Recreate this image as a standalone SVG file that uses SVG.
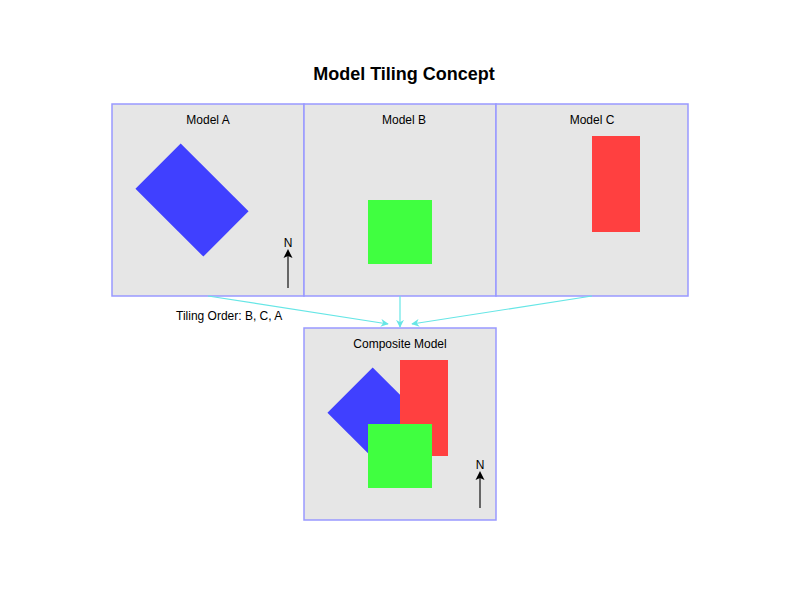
<svg xmlns="http://www.w3.org/2000/svg" width="800" height="600" viewBox="0 0 800 600">
<defs>
<style>
.box{fill:#e6e6e6;stroke:#9999ff;stroke-width:1.5}
.lbl{font-family:"Liberation Sans",Arial,sans-serif;font-size:12px;fill:#000;text-anchor:middle}
.title{font-family:"Liberation Sans",Arial,sans-serif;font-size:18px;font-weight:bold;text-anchor:middle}
.conn{stroke:#66e6e6;stroke-width:1.2;fill:none;marker-end:url(#ah)}
.nline{stroke:#666;stroke-width:2}
.nhead{fill:#000}
.blue{fill:#4040ff}.green{fill:#40ff40}.red{fill:#ff4040}
</style>
<marker id="ah" viewBox="0 0 10 10" refX="9" refY="5" markerWidth="8" markerHeight="8" orient="auto" markerUnits="userSpaceOnUse"><path d="M0,0 L10,5 L0,10 L3,5 z" fill="#66e6e6"/></marker>
</defs>
<rect width="800" height="600" fill="#fff"/>
<text class="title" x="404" y="80">Model Tiling Concept</text>
<g id="modelA">
<rect class="box" x="112" y="104" width="192" height="192"/>
<text class="lbl" x="208" y="124">Model A</text>
<rect class="blue" x="160" y="152" width="64" height="96" transform="rotate(-45 192 200)"/>
<line class="nline" x1="288" y1="288" x2="288" y2="256"/>
<path class="nhead" d="M288,249 L292.5,258 L288,256 L283.5,258 z"/>
<text class="lbl" x="288" y="247">N</text>
</g>
<g id="modelB">
<rect class="box" x="304" y="104" width="192" height="192"/>
<text class="lbl" x="404" y="124">Model B</text>
<rect class="green" x="368" y="200" width="64" height="64"/>
</g>
<g id="modelC">
<rect class="box" x="496" y="104" width="192" height="192"/>
<text class="lbl" x="592" y="124">Model C</text>
<rect class="red" x="592" y="136" width="48" height="96"/>
</g>
<g id="composite">
<rect class="box" x="304" y="328" width="192" height="192"/>
<text class="lbl" x="400" y="348">Composite Model</text>
<rect class="blue" x="352" y="376" width="64" height="96" transform="rotate(-45 384 424)"/>
<rect class="red" x="400" y="360" width="48" height="96"/>
<rect class="green" x="368" y="424" width="64" height="64"/>
<line class="nline" x1="480" y1="508" x2="480" y2="478"/>
<path class="nhead" d="M480,471 L484.5,480 L480,478 L475.5,480 z"/>
<text class="lbl" x="480" y="469">N</text>
</g>
<g id="connectors">
<line class="conn" x1="208" y1="296" x2="388" y2="324"/>
<line class="conn" x1="400" y1="296" x2="400" y2="327"/>
<line class="conn" x1="592" y1="296" x2="412" y2="324"/>
</g>
<text class="lbl" x="176" y="320" style="text-anchor:start">Tiling Order: B, C, A</text>
</svg>
